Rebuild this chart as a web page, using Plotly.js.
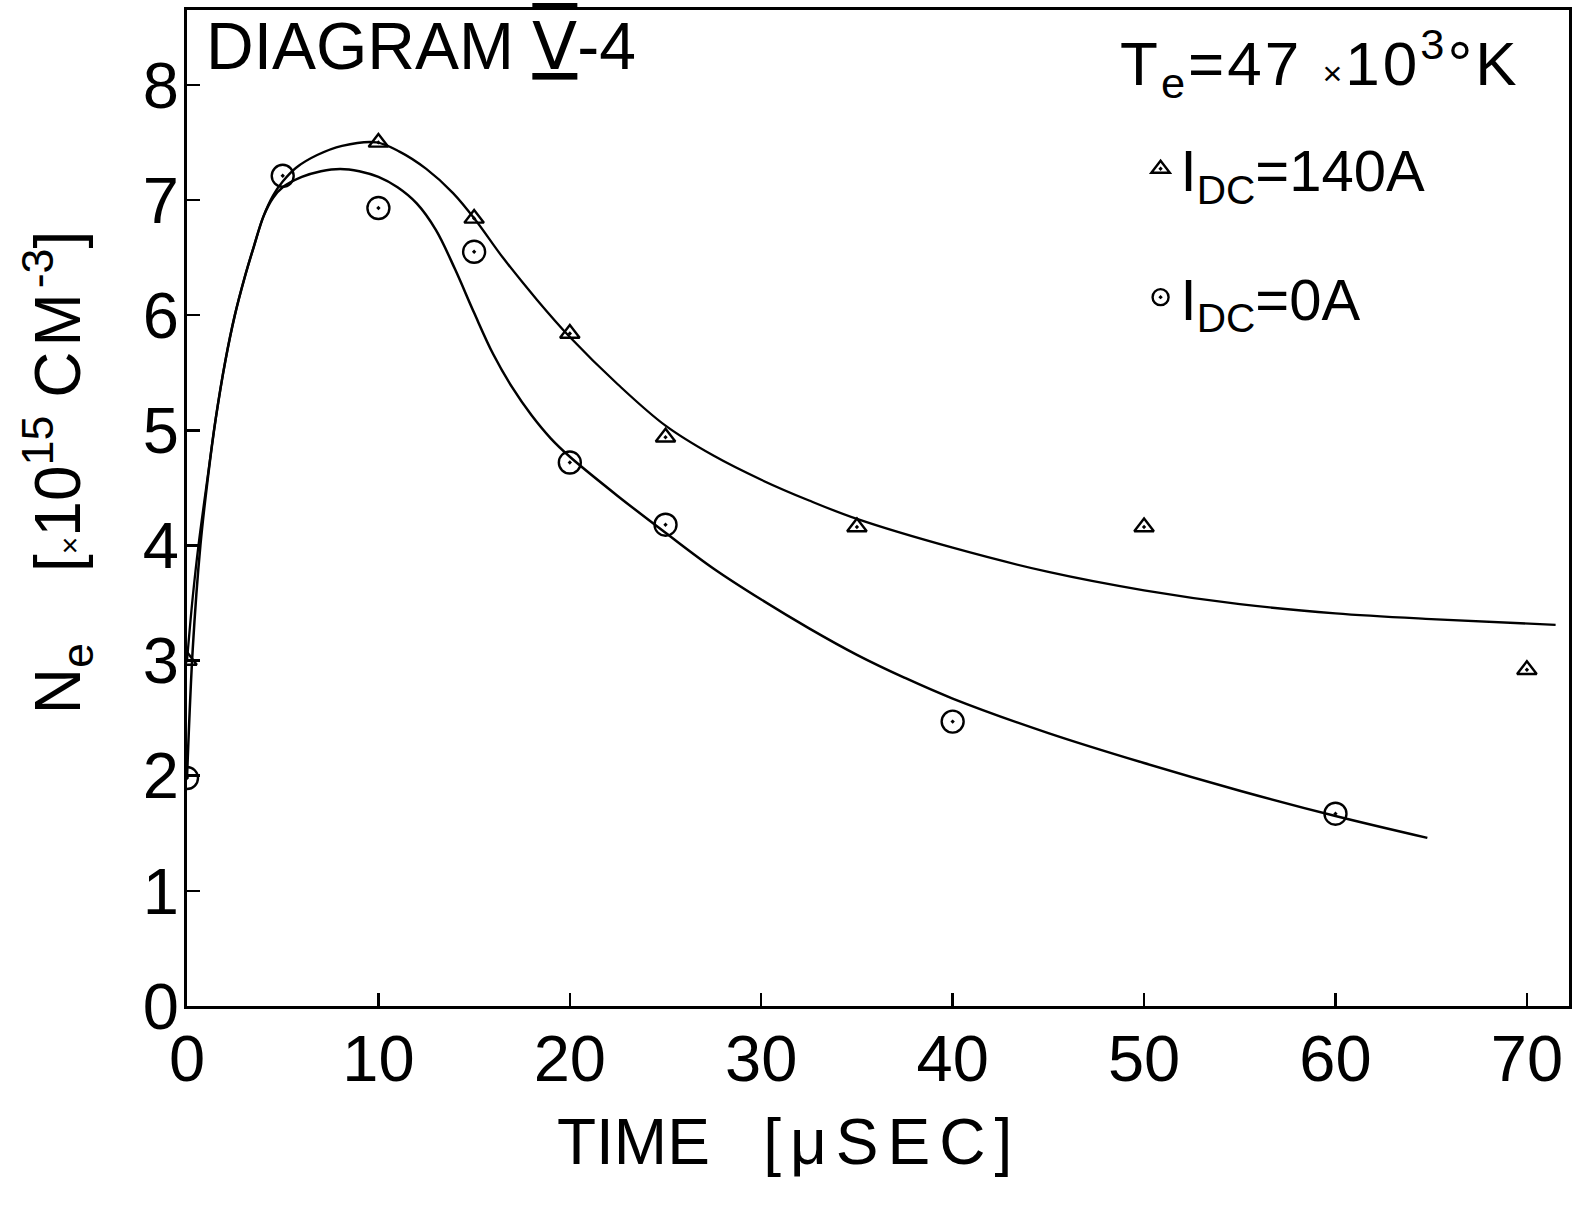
<!DOCTYPE html>
<html>
<head>
<meta charset="utf-8">
<script src="https://cdn.plot.ly/plotly-3.0.1.min.js"></script>
<style>
  html, body { margin: 0; padding: 0; background: #ffffff; }
  #chart { width: 1577px; height: 1208px; }
</style>
</head>
<body>
<div id="chart"></div>
<script>
// Measured points, I_DC = 140 A (triangles)
const time140 = [0, 10, 15, 20, 25, 35, 50, 70];
const ne140 = [3.0, 7.5, 6.84, 5.84, 4.94, 4.16, 4.16, 2.92];

// Measured points, I_DC = 0 A (circles)
const time0 = [0, 5, 10, 15, 20, 25, 40, 60];
const ne0 = [1.98, 7.21, 6.93, 6.55, 4.72, 4.18, 2.47, 1.67];

// Hand-drawn fitted curve through the 140 A points
const curveTime140 = [0, 0.3, 0.6, 1.1, 1.5, 2.0, 2.5, 3.0, 3.5, 4.0, 4.5, 5.0, 5.7, 6.8, 8.1, 9.9, 11.1, 12.5, 13.9, 15.1, 16.5, 18.3, 20.0, 22.5, 25.0, 27.5, 30.0, 32.5, 35.0, 40.0, 45.0, 50.0, 55.0, 60.0, 65.0, 71.5];
const curveNe140 = [3.0, 3.55, 4.0, 4.62, 5.1, 5.6, 6.0, 6.32, 6.6, 6.86, 7.04, 7.16, 7.28, 7.39, 7.47, 7.5, 7.42, 7.27, 7.06, 6.82, 6.5, 6.13, 5.81, 5.40, 5.04, 4.78, 4.57, 4.39, 4.23, 3.98, 3.77, 3.61, 3.49, 3.41, 3.36, 3.31];

// Hand-drawn fitted curve through the 0 A points
const curveTime0 = [0, 0.3, 0.7, 1.1, 1.5, 2.0, 2.5, 3.0, 3.5, 4.0, 4.5, 5.0, 6.0, 7.0, 8.0, 9.0, 10.0, 11.0, 12.0, 13.0, 14.0, 15.0, 16.0, 17.0, 18.0, 19.0, 20.0, 22.5, 25.0, 27.5, 30.0, 32.5, 35.0, 37.5, 40.0, 45.0, 50.0, 55.0, 60.0, 64.8];
const curveNe0 = [1.98, 3.1, 4.0, 4.6, 5.1, 5.6, 6.0, 6.32, 6.6, 6.86, 7.02, 7.11, 7.2, 7.25, 7.27, 7.25, 7.2, 7.11, 6.97, 6.74, 6.40, 6.02, 5.66, 5.37, 5.13, 4.93, 4.77, 4.43, 4.11, 3.80, 3.53, 3.28, 3.05, 2.85, 2.67, 2.37, 2.11, 1.87, 1.65, 1.46];

// Axis ticks
const xTicks = [0, 10, 20, 30, 40, 50, 60, 70];
const yTicks = [0, 1, 2, 3, 4, 5, 6, 7, 8];

// Texts
const name140 = 'I<sub>DC</sub>=140A';
const name0 = 'I<sub>DC</sub>=0A';
const diagramLabel = 'DIAGRAM <span style="text-decoration:overline underline">\u2164</span>-4';
const tempLabel = '<span style="letter-spacing:3px">T<sub>e</sub>=47 <span style="font-size:34px">\u00d7</span>10<sup>3</sup>\u00b0K</span>';
const xTitle = 'TIME\u00a0\u00a0\u00a0<span style="letter-spacing:9px">[\u03bcSEC]</span>';
const yTitle = 'N<sub>e</sub>\u00a0\u00a0\u00a0\u00a0[<span style="font-size:30px">\u00d7</span>10<sup>15</sup> <span style="letter-spacing:5px">CM</span><sup>-3</sup>]';

const FONT = 'Liberation Sans, Arial, sans-serif';
const NB = '\u00a0';
const ZW = '\u200b';

const traces = [
  {
    x: time140, y: ne140, mode: 'markers', type: 'scatter', name: name140,
    marker: { symbol: 'triangle-up-open-dot', size: 17, color: '#000', line: { width: 2.4, color: '#000' } },
    legendgroup: 'a'
  },
  {
    x: time0, y: ne0, mode: 'markers', type: 'scatter', name: name0,
    marker: { symbol: 'circle-open-dot', size: 22, color: '#000', line: { width: 2.4, color: '#000' } },
    legendgroup: 'b'
  },
  {
    x: curveTime140, y: curveNe140, mode: 'lines', type: 'scatter', showlegend: false,
    line: { color: '#000', width: 2.3, shape: 'spline', smoothing: 1 }
  },
  {
    x: curveTime0, y: curveNe0, mode: 'lines', type: 'scatter', showlegend: false,
    line: { color: '#000', width: 2.5, shape: 'spline', smoothing: 1 }
  }
];

const layout = {
  width: 1577, height: 1208,
  margin: { l: 187, r: 8, t: 10, b: 202 },
  paper_bgcolor: '#ffffff', plot_bgcolor: '#ffffff',
  font: { family: FONT, color: '#000', size: 60 },
  showlegend: true,
  legend: {
    x: 0.69, y: 0.885, xanchor: 'left', yanchor: 'top',
    bgcolor: 'rgba(0,0,0,0)', borderwidth: 0,
    font: { family: FONT, size: 58, color: '#000' },
    traceorder: 'grouped', tracegroupgap: 50
  },
  xaxis: {
    range: [0, 72.2], tickvals: xTicks, ticktext: xTicks.map(String),
    ticks: 'inside', ticklen: 13, tickwidth: 2.5, tickcolor: '#000',
    showline: true, linewidth: 3, linecolor: '#000', mirror: true,
    showgrid: false, zeroline: false,
    tickfont: { family: FONT, size: 65, color: '#000' },
    ticklabelstandoff: -6,
    title: {
      text: xTitle + NB.repeat(10) + ZW,
      font: { family: FONT, size: 64, color: '#000' },
      standoff: 26
    }
  },
  yaxis: {
    range: [0, 8.65], tickvals: yTicks, ticktext: yTicks.map(String),
    ticks: 'inside', ticklen: 13, tickwidth: 2.5, tickcolor: '#000',
    showline: true, linewidth: 3, linecolor: '#000', mirror: true,
    showgrid: false, zeroline: false,
    tickfont: { family: FONT, size: 65, color: '#000' },
    ticklabelstandoff: -8,
    title: {
      text: ZW + NB.repeat(4) + yTitle,
      font: { family: FONT, size: 64, color: '#000' },
      standoff: 42
    }
  },
  annotations: [
    {
      text: diagramLabel, xref: 'paper', yref: 'paper', x: 0.012, y: 1.003,
      xanchor: 'left', yanchor: 'top', showarrow: false,
      font: { family: FONT, size: 66, color: '#000' }
    },
    {
      text: tempLabel, xref: 'paper', yref: 'paper', x: 0.966, y: 0.992,
      xanchor: 'right', yanchor: 'top', showarrow: false,
      font: { family: FONT, size: 62, color: '#000' }
    }
  ]
};

Plotly.newPlot('chart', traces, layout, { displayModeBar: false, staticPlot: true });
</script>
</body>
</html>
